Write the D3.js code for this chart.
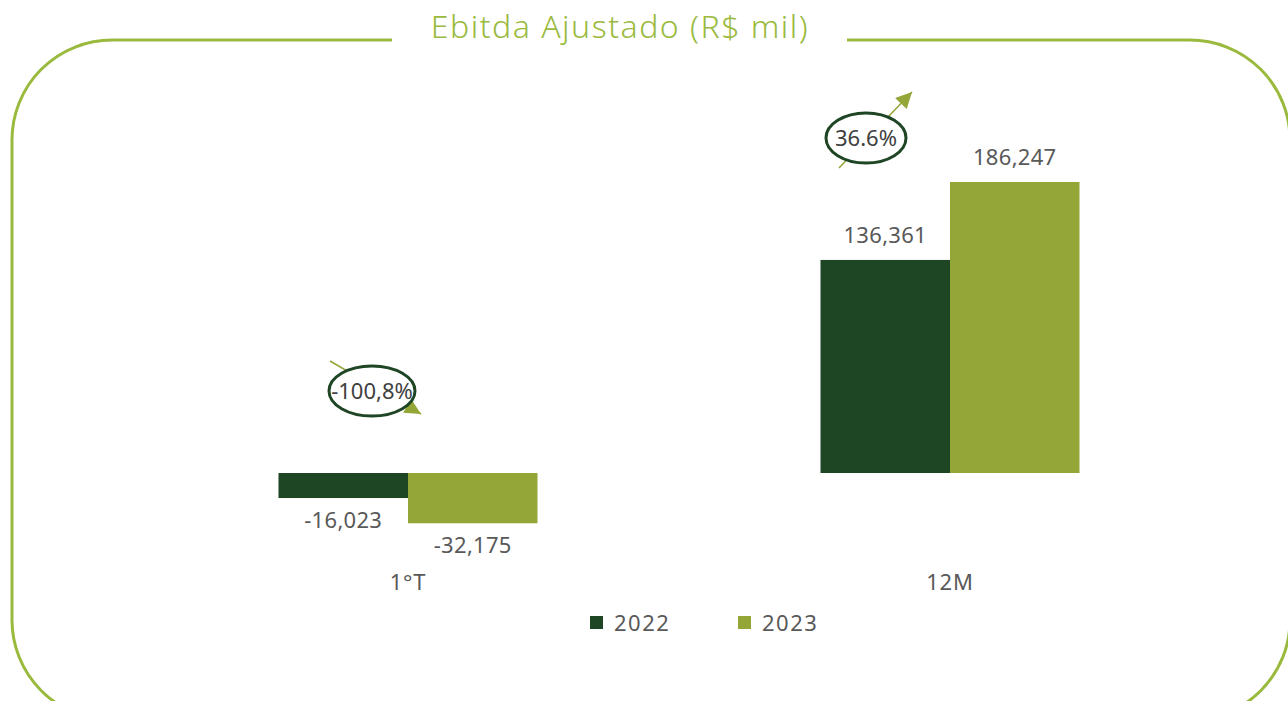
<!DOCTYPE html>
<html>
<head>
<meta charset="utf-8">
<script src="https://cdn.jsdelivr.net/npm/d3@7"></script>
<style>
  body { margin: 0; background: #fff; }
  svg { display: block; font-family: "Noto Sans", sans-serif; }
</style>
</head>
<body>
<svg width="1288" height="701"></svg>
<script>
// data
const categories = ["1°T", "12M"]
const series = ["2022", "2023"]
const values2022 = [-16023, 136361]
const values2023 = [-32175, 186247]
const valueLabels2022 = ["-16,023", "136,361"]
const valueLabels2023 = ["-32,175", "186,247"]
const changes = ["-100,8%", "36.6%"]

const dark = "#1e4524", light = "#94a638", frame = "#9aba3e", textCol = "#595959"

var svg = d3.select("svg")

// frame with title gap
svg.append("path")
  .attr("fill", "none")
  .attr("stroke", frame)
  .attr("stroke-width", 3)
  .attr("d", "M392,40 H112 A100,100 0 0 0 12,140 V620 A100,100 0 0 0 112,720 H1190 A100,100 0 0 0 1290,620 V140 A100,100 0 0 0 1190,40 H847")

svg.append("text")
  .attr("x", 620).attr("y", 38)
  .attr("text-anchor", "middle")
  .attr("fill", "#9aba3e")
  .attr("font-size", 32)
  .attr("font-weight", 300)
  .attr("letter-spacing", 1.5)
  .text("Ebitda Ajustado (R$ mil)")

var y = d3.scaleLinear().domain([0, 186247]).range([473, 182])

var x0 = d3.scaleBand().domain(categories).range([137, 1221])
var x1 = d3.scaleBand().domain(series).range([0, 259])
var off = (x0.bandwidth() - 259) / 2

var rows = categories.map(function(c, i) {
  return { cat: c, vals: [
    { s: "2022", v: values2022[i], lab: valueLabels2022[i], col: dark },
    { s: "2023", v: values2023[i], lab: valueLabels2023[i], col: light }
  ]}
})

var g = svg.selectAll("g.cat")
  .data(rows)
  .enter().append("g")
    .attr("class", "cat")
    .attr("transform", function(d){ return "translate(" + (x0(d.cat) + off) + ",0)" })

g.selectAll("rect")
  .data(function(d){ return d.vals })
  .enter().append("rect")
    .attr("x", function(d){ return x1(d.s) })
    .attr("width", x1.bandwidth())
    .attr("y", function(d){ return Math.min(y(d.v), y(0)) })
    .attr("height", function(d){ return Math.abs(y(d.v) - y(0)) })
    .attr("fill", function(d){ return d.col })

g.selectAll("text.val")
  .data(function(d){ return d.vals })
  .enter().append("text")
    .attr("class", "val")
    .attr("x", function(d){ return x1(d.s) + x1.bandwidth() / 2 })
    .attr("y", function(d){ return d.v >= 0 ? y(d.v) - 17 : y(d.v) + 30 })
    .attr("text-anchor", "middle")
    .attr("fill", textCol)
    .attr("font-size", 22)
    .attr("letter-spacing", 0.3)
    .text(function(d){ return d.lab })

// category labels
svg.selectAll("text.cat")
  .data(categories)
  .enter().append("text")
    .attr("x", function(d){ return x0(d) + x0.bandwidth() / 2 })
    .attr("y", 590)
    .attr("text-anchor", "middle")
    .attr("fill", textCol)
    .attr("font-size", 22)
    .attr("letter-spacing", 0.8)
    .text(function(d){ return d })

// legend
var leg = svg.selectAll("g.leg")
  .data(series)
  .enter().append("g")
    .attr("transform", function(d, i){ return "translate(" + (590 + i * 148) + ",616)" })
leg.append("rect").attr("width", 13).attr("height", 13)
  .attr("fill", function(d, i){ return i === 0 ? dark : light })
leg.append("text").attr("x", 24).attr("y", 15)
  .attr("fill", textCol).attr("font-size", 22)
  .attr("letter-spacing", 1.5)
  .text(function(d){ return d })

// change annotations
var ann = [
  { cx: 372, cy: 391, rx: 43, ry: 25, x1: 330, y1: 361, x2: 421, y2: 414 },
  { cx: 866, cy: 138, rx: 40, ry: 25, x1: 839, y1: 168, x2: 912, y2: 92 }
]

svg.append("defs").append("marker")
  .attr("id", "arr")
  .attr("viewBox", "0 0 10 10")
  .attr("refX", 10).attr("refY", 5)
  .attr("markerWidth", 20).attr("markerHeight", 16)
  .attr("markerUnits", "userSpaceOnUse")
  .attr("orient", "auto")
  .append("path").attr("d", "M0,0 L10,5 L0,10 Z").attr("fill", light)

ann.forEach(function(a, i) {
  svg.append("line")
    .attr("x1", a.x1).attr("y1", a.y1).attr("x2", a.x2).attr("y2", a.y2)
    .attr("stroke", light).attr("stroke-width", 1.5)
    .attr("marker-end", "url(#arr)")
  svg.append("ellipse")
    .attr("cx", a.cx).attr("cy", a.cy).attr("rx", a.rx).attr("ry", a.ry)
    .attr("fill", "#fff").attr("stroke", dark).attr("stroke-width", 3)
  svg.append("text")
    .attr("x", a.cx).attr("y", a.cy + 8)
    .attr("text-anchor", "middle")
    .attr("fill", "#404040")
    .attr("font-size", 22)
    .text(changes[i])
})
</script>
</body>
</html>
